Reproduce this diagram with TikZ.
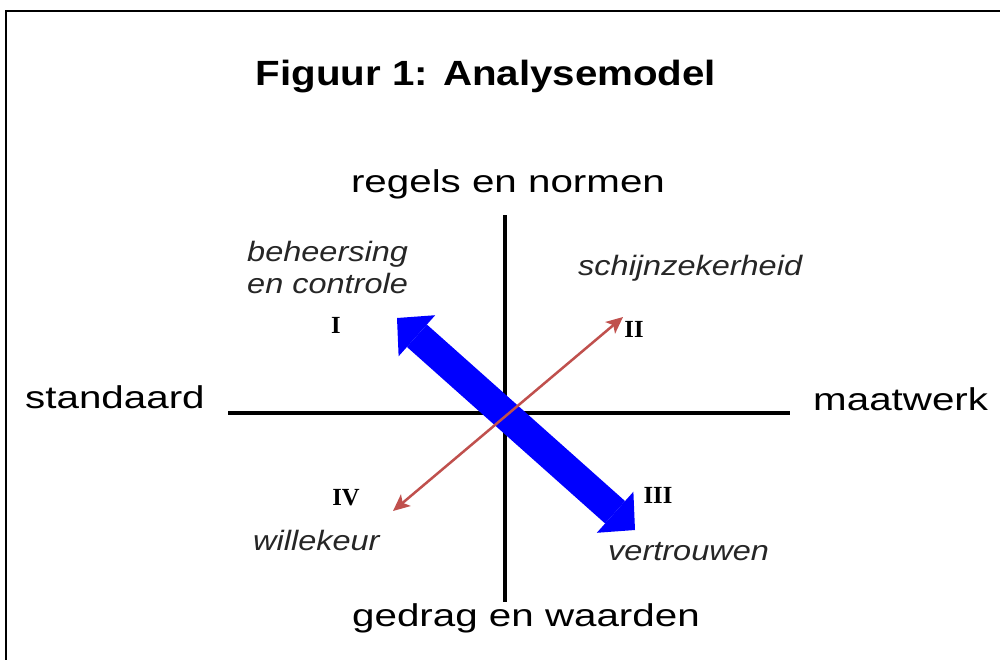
\documentclass[tikz,border=0pt]{standalone}
\usepackage{fontspec}
\setmainfont{Liberation Sans}
\newfontfamily\polefont[FakeStretch=1.28]{Liberation Sans}
\newfontfamily\headfont[FakeStretch=1.15]{Liberation Sans}
\newfontfamily\quadfont[FakeStretch=1.16]{Liberation Sans}
\newfontfamily\numfont{Liberation Serif}
\usepackage{xcolor}
\definecolor{arrowred}{RGB}{192,80,77}
\usetikzlibrary{arrows.meta,positioning}

\begin{document}
\begin{tikzpicture}[
  x=0.03cm, y=-0.03cm,
  axis/.style={line width=0.1cm, black},
  pole/.style={inner sep=0pt, font=\polefont\fontsize{26.9}{30}\selectfont},
  quad/.style={
    inner sep=0pt,
    align=left,
    text=black!85,
    font=\quadfont\itshape\fontsize{23.9}{26.5}\selectfont
  },
  num/.style={inner sep=0pt, font=\numfont\bfseries\fontsize{21}{22}\selectfont},
  bigarr/.style={
    blue, line width=0.9cm,
    {Triangle[length=0.8cm,width=1.65cm,line width=0pt]}-{Triangle[length=0.8cm,width=1.65cm,line width=0pt]}
  },
  thinarr/.style={
    arrowred, line width=0.075cm,
    {Stealth[length=0.5cm,width=0.45cm,inset=0.12cm]}-{Stealth[length=0.5cm,width=0.45cm,inset=0.12cm]}
  }
]
  \useasboundingbox (0,0) rectangle (1000,660);
  \fill[white] (0,0) rectangle (1000,660);

  % frame
  \draw[line width=0.06cm] (1000,11) -| (6,660);

  % title
  \node[inner sep=0pt, anchor=base, font=\headfont\bfseries\fontsize{29.9}{32}\selectfont]
    (title) at (486,85) {Figuur 1: Analysemodel};

  % axes
  \coordinate (top) at (505,215);
  \coordinate (bottom) at (505,602);
  \coordinate (left) at (228,413);
  \coordinate (right) at (790,413);
  \draw[axis] (top) -- (bottom);
  \draw[axis] (left) -- (right);

  % poles
  \node[pole, anchor=base] (rules) at (508,192) {regels en normen};
  \node[pole, anchor=base] (values) at (526,626) {gedrag en waarden};
  \node[pole, anchor=base west] (standard) at (25,408) {standaard};
  \node[pole, anchor=base west] (custom) at (813,410) {maatwerk};

  % arrows
  \coordinate (blueI) at (397,318);
  \coordinate (blueIII) at (635,530);
  \coordinate (redII) at (623,317);
  \coordinate (redIV) at (393,511);
  \draw[bigarr] (blueI) -- (blueIII);
  \draw[thinarr] (redIV) -- (redII);

  % quadrants
  \node[num, anchor=base] (qI) at (336,333) {I};
  \node[num, anchor=base] (qII) at (634,337) {II};
  \node[num, anchor=base] (qIII) at (658,503) {III};
  \node[num, anchor=base] (qIV) at (346,505) {IV};

  \node[quad, anchor=base west] (control) at (247,293) {beheersing\\en controle};
  \node[quad, anchor=base west] (sham) at (578,275) {schijnzekerheid};
  \node[quad, anchor=base west] (trust) at (608,560) {vertrouwen};
  \node[quad, anchor=base west] (arbitrary) at (253,550) {willekeur};
\end{tikzpicture}
\end{document}
